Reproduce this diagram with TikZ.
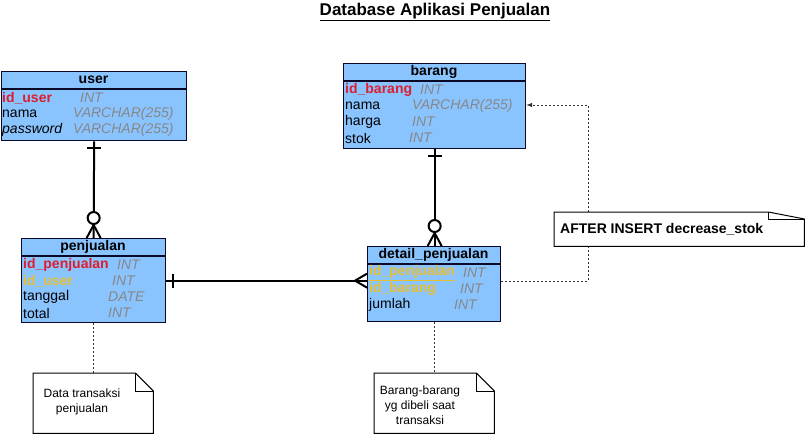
\documentclass[tikz,border=0pt]{standalone}
\usepackage{fontspec}
\setmainfont{Liberation Sans}
\usepackage{xcolor}
\usetikzlibrary{calc}

\definecolor{tblblue}{RGB}{138,196,255}
\definecolor{tblline}{RGB}{10,10,40}
\definecolor{pkred}{RGB}{220,30,45}
\definecolor{fkgold}{RGB}{232,190,50}
\definecolor{typgray}{RGB}{135,135,135}

\tikzset{
  tbl/.style={draw=tblline, fill=tblblue, line width=1.3pt, anchor=north west, inner sep=0pt},
  hdr/.style={font=\fontsize{14}{16}\selectfont\bfseries, inner sep=0pt},
  pk/.style={font=\fontsize{14}{16}\selectfont\bfseries, text=pkred, anchor=west, inner sep=0pt},
  fk/.style={font=\fontsize{14}{16}\selectfont\bfseries, text=fkgold, anchor=west, inner sep=0pt},
  fld/.style={font=\fontsize{14}{16}\selectfont, anchor=west, inner sep=0pt},
  fldit/.style={font=\fontsize{14}{16}\selectfont\itshape, anchor=west, inner sep=0pt},
  typ/.style={font=\fontsize{14}{16}\selectfont\itshape, text=typgray, anchor=west, inner sep=0pt},
  rel/.style={line width=2pt, black},
  dash line/.style={line width=1pt, dash pattern=on 2pt off 2pt, black!80},
  notebox/.style={draw=none, inner sep=0pt},
  notetxt/.style={font=\fontsize{12}{15}\selectfont, align=center, inner sep=0pt}
}

\begin{document}
\begin{tikzpicture}[x=1pt, y=-1pt]
\useasboundingbox (0,0) rectangle (808,437);

% Judul
\node[font=\fontsize{17}{20}\selectfont\bfseries, inner sep=0pt] (judul) at (435,12) {\underline{Database Aplikasi Penjualan}};

% Tabel
\node[tbl, minimum width=185pt, minimum height=69pt] (user) at (1,71) {};
\node[tbl, minimum width=182pt, minimum height=85pt] (barang) at (343,63) {};
\node[tbl, minimum width=144pt, minimum height=84pt] (penjualan) at (21,238) {};
\node[tbl, minimum width=133pt, minimum height=75pt] (detail) at (367,246) {};

% Garis header
\foreach \t in {user,barang,penjualan,detail} {
    \draw[tblline, line width=2pt] ([yshift=-18pt]\t.north west) -- ([yshift=-18pt]\t.north east);
}

% Nama tabel
\node[hdr] (user-h) at (93.5,80) {user};
\node[hdr] (barang-h) at (434,72) {barang};
\node[hdr] (penjualan-h) at (93,247) {penjualan};
\node[hdr] (detail-h) at (433.5,255) {detail\_penjualan};

% Kolom
\foreach \s/\x/\y/\f/\tx/\t in {
    pk/2/98/id\_user/80/INT, fld/2/114/nama/73/VARCHAR(255), fldit/2/130/password/73/VARCHAR(255),
    pk/345/90/id\_barang/420/INT, fld/345/106/nama/412/VARCHAR(255), fld/345/122/harga/412/INT, fld/345/138/stok/409/INT,
    pk/23/265/id\_penjualan/117/INT, fk/23/281/id\_user/112/INT, fld/23/297/tanggal/108/DATE, fld/23/313/total/108/INT,
    fk/369/289/id\_barang/460/INT, fld/369/305/jumlah/454/INT} {
    \node[\s] at (\x,\y) {\f};
    \node[typ] at (\tx,\y) {\t};
}
\node[fk] (detail-idp) at (369,273) {\underline{id\_penjualan}};
\node[typ] at (463,273) {INT};

% Relasi user - penjualan
\draw[rel] (user.south) -- (penjualan.north);
\draw[rel] ([xshift=-7pt,yshift=-7pt]user.south) -- ([xshift=7pt,yshift=-7pt]user.south);
\draw[rel, fill=white] ([yshift=20pt]penjualan.north) circle (6pt);
\draw[rel] ([yshift=13pt]penjualan.north) -- ([xshift=-7pt]penjualan.north)
           ([yshift=13pt]penjualan.north) -- ([xshift=7pt]penjualan.north);

% Relasi barang - detail_penjualan
\draw[rel] (barang.south) -- (detail.north -| barang.south);
\draw[rel] ([xshift=-7pt,yshift=-7pt]barang.south) -- ([xshift=7pt,yshift=-7pt]barang.south);
\draw[rel, fill=white] ([yshift=20pt]detail.north -| barang.south) circle (6pt);
\draw[rel] ([yshift=13pt]detail.north -| barang.south) -- ([xshift=-7pt]detail.north -| barang.south)
           ([yshift=13pt]detail.north -| barang.south) -- ([xshift=7pt]detail.north -| barang.south);

% Relasi penjualan - detail_penjualan
\coordinate (dp) at (detail.west |- penjualan.east);
\draw[rel] (penjualan.east) -- (dp);
\draw[rel] ([xshift=7pt,yshift=-7pt]penjualan.east) -- ([xshift=7pt,yshift=7pt]penjualan.east);
\draw[rel] ([xshift=-12pt]dp) -- ([yshift=7pt]dp)
           ([xshift=-12pt]dp) -- ([yshift=-7pt]dp);

% Trigger
\coordinate (trg) at (588,281);
\draw[dash line, -latex] (detail.east |- trg) -- (trg) -- (trg |- 0,105) -- (barang.east |- 0,105);
\node[notebox, minimum width=250pt, minimum height=34pt, anchor=north west] (trig) at (554,212) {};
\draw[fill=white, line width=1pt] (trig.north west) -- ([xshift=-36pt]trig.north east) -- ([yshift=-7pt]trig.north east)
    -- (trig.south east) -- (trig.south west) -- cycle;
\draw[line width=1pt] ([xshift=-36pt]trig.north east) -- ([xshift=-36pt,yshift=-7pt]trig.north east) -- ([yshift=-7pt]trig.north east);
\node[font=\fontsize{14}{16}\selectfont\bfseries, anchor=west, inner sep=0pt] (trig-t) at (560,229) {AFTER INSERT decrease\_stok};

% Catatan
\node[notebox, minimum width=120pt, minimum height=60pt, anchor=north west] (n1) at (33,373) {};
\node[notebox, minimum width=120pt, minimum height=60pt, anchor=north west] (n2) at (374,373) {};
\foreach \n in {n1,n2} {
    \draw[fill=white, line width=1pt] (\n.north west) -- ([xshift=-18pt]\n.north east) -- ([yshift=-18pt]\n.north east)
        -- (\n.south east) -- (\n.south west) -- cycle;
    \draw[line width=1pt] ([xshift=-18pt]\n.north east) -- ([xshift=-18pt,yshift=-18pt]\n.north east) -- ([yshift=-18pt]\n.north east);
}
\node[notetxt] (n1-t) at (82,402) {Data transaksi\\penjualan};
\node[notetxt] (n2-t) at (420,405) {Barang-barang\\yg dibeli saat\\transaksi};
\draw[dash line] (penjualan.south) -- (n1.north -| penjualan.south);
\draw[dash line] (detail.south) -- (n2.north -| detail.south);

\end{tikzpicture}
\end{document}
